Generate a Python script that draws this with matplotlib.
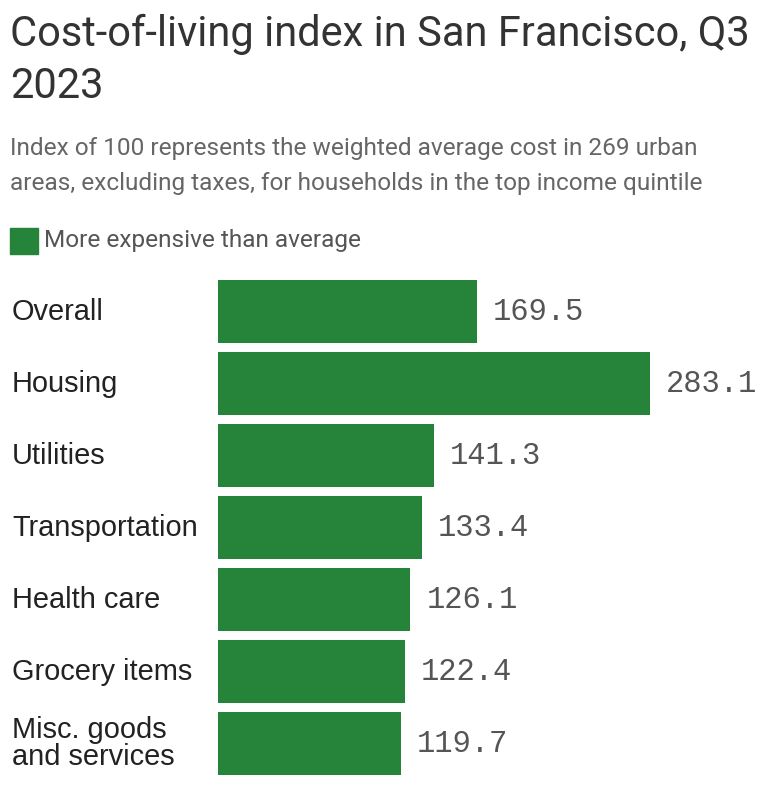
import matplotlib.pyplot as plt
import matplotlib.transforms as mtransforms
from matplotlib.patches import Rectangle

categories = ["Overall", "Housing", "Utilities", "Transportation",
              "Health care", "Grocery items", "Misc. goods\nand services"]
values = [169.5, 283.1, 141.3, 133.4, 126.1, 122.4, 119.7]

title = "Cost-of-living index in San Francisco, Q3\n2023"
subtitle = ("Index of 100 represents the weighted average cost in 269 urban\n"
            "areas, excluding taxes, for households in the top income quintile")
legend_label = "More expensive than average"

GREEN = "#26843a"
W, H = 770, 788

fig = plt.figure(figsize=(W / 100, H / 100), dpi=100)
fig.patch.set_facecolor("white")

# axes placed in pixel terms: bars run from x=218 (0) to x=650 (283.1)
ax = fig.add_axes([218 / W, 1 - 775 / H, (650 - 218) / W, (775 - 280) / H])
ypos = list(range(len(categories)))
ax.barh(ypos, values, height=0.875, color=GREEN)
ax.set_xlim(0, max(values))
ax.set_ylim(len(categories) - 1 + 0.4375, -0.4375)
ax.axis("off")

# category labels sit at the left edge of the figure, aligned with bars
label_tr = mtransforms.blended_transform_factory(fig.transFigure, ax.transData)
for y, v, c in zip(ypos, values, categories):
    ax.annotate(f"{v:.1f}", xy=(v, y), xytext=(16, 0), textcoords="offset pixels",
                ha="left", va="center", fontsize=22, color="#555555",
                family="Liberation Mono", annotation_clip=False)
    fig.text(12 / W, y, c, ha="left", va="center", fontsize=20.9,
             color="#222222", family="Liberation Sans", linespacing=0.95,
             transform=label_tr)

fig.text(10 / W, 1 - 14 / H, title, ha="left", va="top", fontsize=30,
         color="#333333", family="Roboto", linespacing=1.34)
fig.text(10 / W, 1 - 137 / H, subtitle, ha="left", va="top", fontsize=17.6,
         color="#666666", family="Roboto", linespacing=1.68)

fig.patches.append(Rectangle((10 / W, 1 - 254 / H), 28 / W, 26 / H,
                             transform=fig.transFigure, color=GREEN))
fig.text(44 / W, 1 - 241 / H, legend_label, ha="left", va="center",
         fontsize=17.6, color="#555555", family="Roboto")

fig.savefig("out.png", dpi=100)
